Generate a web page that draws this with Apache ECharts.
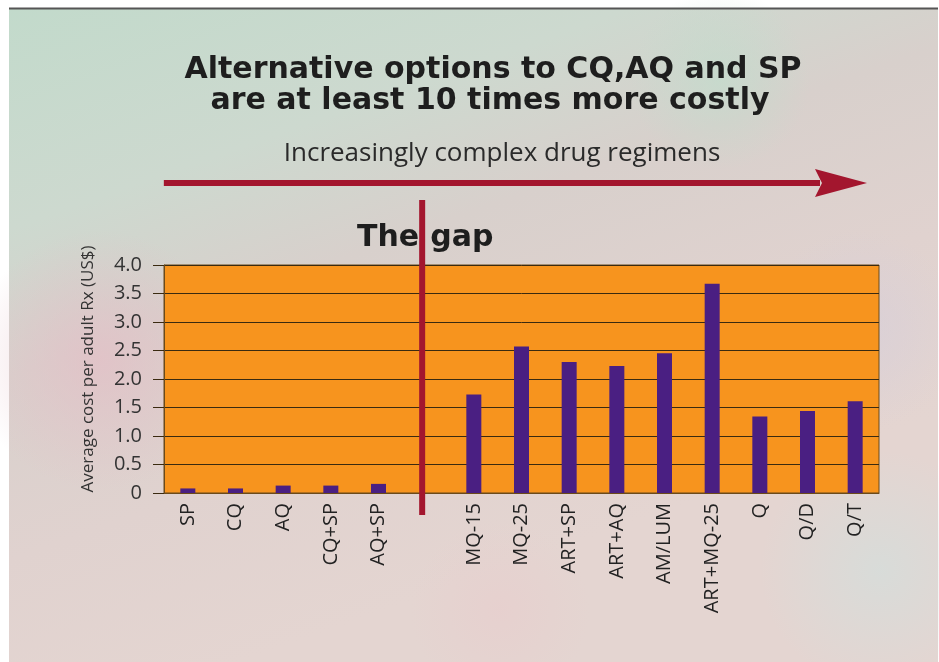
<!DOCTYPE html>
<html>
<head>
<meta charset="utf-8">
<script src="https://cdn.jsdelivr.net/npm/echarts@6/dist/echarts.min.js"></script>
<style>
html,body{margin:0;padding:0;background:#ffffff;}
#main{width:939px;height:662px;}
</style>
</head>
<body>
<div id="main"></div>
<script>
// ---- data ----
var categories = ['SP','CQ','AQ','CQ+SP','AQ+SP','','MQ-15','MQ-25','ART+SP','ART+AQ','AM/LUM','ART+MQ-25','Q','Q/D','Q/T'];
var costs = [0.08, 0.08, 0.13, 0.13, 0.16, null, 1.73, 2.57, 2.30, 2.23, 2.45, 3.67, 1.34, 1.44, 1.61];
var yTicks = ['0','0.5','1.0','1.5','2.0','2.5','3.0','3.5','4.0'];
var gapCategory = '';
var titleLines = ['Alternative options to CQ,AQ and SP', 'are at least 10 times more costly'];
var arrowText = 'Increasingly complex drug regimens';
var gapWords = ['The', 'gap'];
var yAxisName = 'Average cost per adult Rx (US$)';

var FONT = '"Open Sans", Lato, sans-serif';
var BOLD = '"DejaVu Sans", "Open Sans", sans-serif';
var chart = echarts.init(document.getElementById('main'), null, {renderer:'canvas'});

function blob(cx, cy, rx, ry, rgb, op){
  return {type:'ellipse', silent:true, z:-9,
    shape:{cx:cx, cy:cy, rx:rx, ry:ry},
    style:{fill:{type:'radial', x:0.5, y:0.5, r:0.5,
      colorStops:[{offset:0,color:'rgba('+rgb+','+op+')'},{offset:1,color:'rgba('+rgb+',0)'}]}}};
}

var bgGraphics = [
  {type:'rect', silent:true, z:-10, shape:{x:9, y:8, width:929, height:654},
   style:{fill:{type:'linear', x:0, y:0, x2:0.25, y2:1, colorStops:[
     {offset:0, color:'#c2dacb'},
     {offset:0.3, color:'#cdd9cf'},
     {offset:0.5, color:'#d8d0cc'},
     {offset:0.75, color:'#e0d2cf'},
     {offset:1, color:'#e4d5d1'}]}}},
  blob(100, 360, 130, 170, '228,190,198', 0.7),
  blob(720, 80, 280, 90, '190,222,204', 0.6),
  blob(500, 610, 340, 90, '232,205,205', 0.6),
  blob(880, 570, 120, 120, '208,224,222', 0.6),
  blob(860, 330, 100, 150, '210,205,222', 0.5),
  {type:'line', silent:true, z:-8, shape:{x1:9, y1:8.5, x2:938, y2:8.5}, style:{stroke:'#555555', lineWidth:2}}
];

var option = {
  backgroundColor:'#ffffff',
  animation:false,
  grid:{left:164, right:60, top:265, bottom:169, containLabel:false,
        show:true, backgroundColor:'#f7941e', borderColor:'#6b4a1a', borderWidth:1},
  xAxis:{
    type:'category', data:categories,
    axisLine:{show:true, lineStyle:{color:'#6b4a1a', width:1}},
    axisTick:{show:false},
    axisLabel:{rotate:90, color:'#222222', fontFamily:FONT, fontSize:20, margin:10, interval:0}
  },
  yAxis:{
    type:'value', min:0, max:4, interval:0.5,
    name:yAxisName, nameLocation:'middle', nameGap:67, nameRotate:90,
    nameTextStyle:{color:'#333333', fontFamily:FONT, fontSize:17, padding:[0,0,0,20]},
    axisLine:{show:true, lineStyle:{color:'#6b4a1a', width:1}},
    axisTick:{show:true, length:11, lineStyle:{color:'#3a2a10', width:1}},
    axisLabel:{color:'#333333', fontFamily:FONT, fontSize:20, margin:22,
      formatter:function(v){ return yTicks[Math.round(v/0.5)]; }},
    splitLine:{show:true, lineStyle:{color:'#3a2a10', width:1}}
  },
  series:[{
    type:'bar', data:costs, barWidth:15,
    itemStyle:{color:'#4a1f82'}
  }],
  graphic: bgGraphics.concat([
    {type:'text', silent:true, style:{text:titleLines[0], x:493, y:55, align:'center',
      font:'bold 30px ' + BOLD, fill:'#1e1e1e'}},
    {type:'text', silent:true, style:{text:titleLines[1], x:490, y:86, align:'center',
      font:'bold 30px ' + BOLD, fill:'#1e1e1e'}},
    {type:'text', silent:true, style:{text:arrowText, x:502, y:141, align:'center',
      font:'26px ' + FONT, fill:'#2a2a2a'}}
  ])
};
chart.setOption(option);

// decorations placed from the axis scale
var gapPx = chart.convertToPixel({xAxisIndex:0}, gapCategory);
var x0 = chart.convertToPixel({xAxisIndex:0}, categories[0]) - 24;
var extra = [
  {type:'rect', silent:true, z:5, shape:{x:x0, y:180, width:820 - x0, height:6}, style:{fill:'#a3162e'}},
  {type:'polygon', silent:true, z:5, shape:{points:[[815,169],[867,183],[815,197],[822,183]]}, style:{fill:'#a3162e'}},
  {type:'text', silent:true, z:6, style:{text:gapWords[0], x:gapPx - 7, y:223, align:'right',
      font:'bold 30px ' + BOLD, fill:'#1e1e1e'}},
  {type:'text', silent:true, z:6, style:{text:gapWords[1], x:gapPx + 4, y:223, align:'left',
      font:'bold 30px ' + BOLD, fill:'#1e1e1e'}},
  {type:'rect', silent:true, z:10, shape:{x:gapPx - 7, y:200, width:6, height:315}, style:{fill:'#a3162e'}}
];
chart.setOption({graphic: option.graphic.concat(extra)});
</script>
</body>
</html>
